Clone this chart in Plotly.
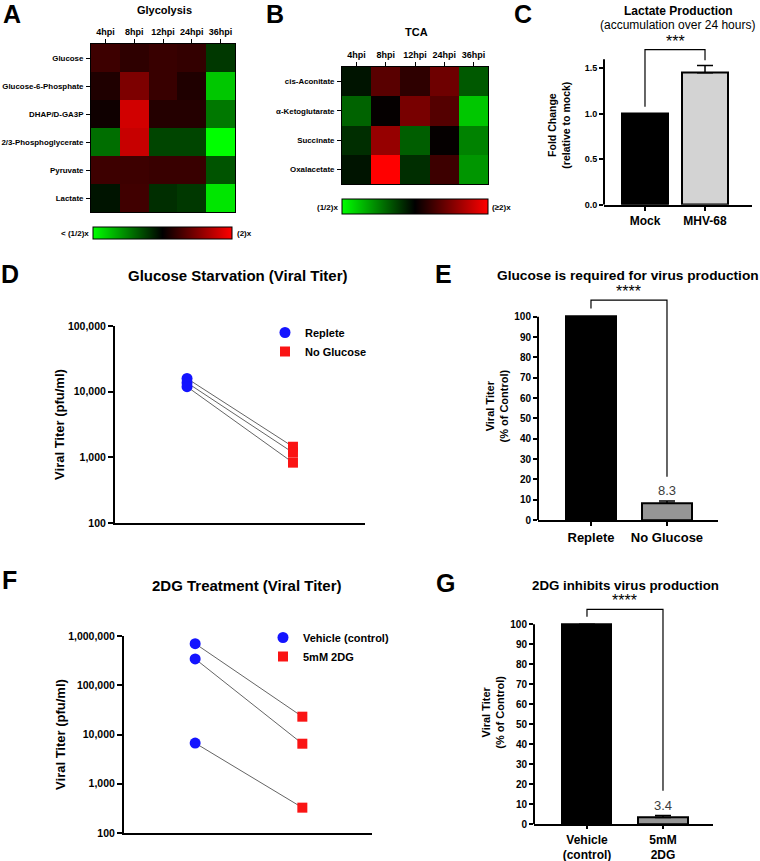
import plotly.graph_objects as go

W, H = 760, 861
FONT = "Arial, Liberation Sans, sans-serif"

# ---- data ----
timepoints = ["4hpi", "8hpi", "12hpi", "24hpi", "36hpi"]

glyco_metabolites = ["Glucose", "Glucose-6-Phosphate", "DHAP/D-GA3P",
                     "2/3-Phosphoglycerate", "Pyruvate", "Lactate"]
glyco_log2fc = [
    [0.24, 0.18, 0.22, 0.20, -0.22],
    [0.12, 0.49, 0.22, 0.12, -0.78],
    [0.06, 0.82, 0.14, 0.14, -0.47],
    [-0.43, 0.78, -0.27, -0.27, -1.00],
    [0.24, 0.24, 0.22, 0.22, -0.33],
    [-0.08, 0.25, -0.18, -0.22, -0.90],
]

tca_metabolites = ["cis-Aconitate", "α-Ketoglutarate", "Succinate", "Oxalacetate"]
tca_log2fc = [
    [-0.08, 0.35, 0.18, 0.43, -0.35],
    [-0.39, 0.02, 0.47, 0.33, -0.78],
    [-0.18, 0.59, -0.37, 0.02, -0.51],
    [-0.08, 1.00, -0.18, 0.24, -0.59],
]

lactate_groups = ["Mock", "MHV-68"]
lactate_fold = [1.0, 1.45]
lactate_err = [0.0, 0.08]

starv_groups = ["Replete", "No Glucose"]
replete_titer = [15900, 13700, 11900]
noglucose_titer = [1450, 1180, 830]

glucose_pct = [100, 8.3]
glucose_pct_err = [0, 1.0]

dg_groups = ["Vehicle (control)", "5mM 2DG"]
vehicle_titer = [700000, 343000, 6700]
dg_titer = [23000, 6500, 327]

dg_pct_labels = ["Vehicle<br>(control)", "5mM<br>2DG"]
dg_pct = [100, 3.4]
dg_pct_err = [0, 1.0]

GREEN_BLACK_RED = [[0, "rgb(0,255,0)"], [0.5, "rgb(0,0,0)"], [1, "rgb(255,0,0)"]]


def px_x(p):
    return p / W


def px_y(p):
    return 1 - p / H


def bold(size):
    return dict(family=FONT, size=size, color="black", weight="bold")


fig = go.Figure()

# ---- A: glycolysis heatmap ----
fig.add_trace(go.Heatmap(
    z=glyco_log2fc, x=timepoints, y=glyco_metabolites, xaxis="x", yaxis="y",
    colorscale=GREEN_BLACK_RED, zmin=-1, zmax=1,
    colorbar=dict(orientation="h", x=px_x(162.5), xanchor="center", y=px_y(227), yanchor="top",
                  len=139 / W, thickness=12, outlinewidth=1, outlinecolor="black",
                  showticklabels=False, ticks="", xpad=0, ypad=0),
))

# ---- B: TCA heatmap ----
fig.add_trace(go.Heatmap(
    z=tca_log2fc, x=timepoints, y=tca_metabolites, xaxis="x2", yaxis="y2",
    colorscale=GREEN_BLACK_RED, zmin=-1, zmax=1,
    colorbar=dict(orientation="h", x=px_x(415), xanchor="center", y=px_y(199), yanchor="top",
                  len=146 / W, thickness=15, outlinewidth=1, outlinecolor="black",
                  showticklabels=False, ticks="", xpad=0, ypad=0),
))

# ---- C: lactate bars ----
fig.add_trace(go.Bar(
    x=lactate_groups, y=lactate_fold, xaxis="x3", yaxis="y3", width=0.78,
    marker=dict(color=["black", "rgb(211,211,211)"], line=dict(color="black", width=2)),
    error_y=dict(type="data", symmetric=False, array=lactate_err, arrayminus=[0, 0],
                 color="black", thickness=1.5, width=8),
    showlegend=False,
))

# ---- D: glucose starvation titers ----
for a, b in zip(replete_titer, noglucose_titer):
    fig.add_trace(go.Scatter(x=[1, 2], y=[a, b], mode="lines", xaxis="x4", yaxis="y4",
                             line=dict(color="rgb(60,60,60)", width=0.8), showlegend=False,
                             hoverinfo="skip"))
fig.add_trace(go.Scatter(x=[1] * len(replete_titer), y=replete_titer, mode="markers",
                         xaxis="x4", yaxis="y4", name="Replete", legend="legend",
                         marker=dict(symbol="circle", size=11, color="rgb(20,20,255)")))
fig.add_trace(go.Scatter(x=[2] * len(noglucose_titer), y=noglucose_titer, mode="markers",
                         xaxis="x4", yaxis="y4", name="No Glucose", legend="legend",
                         marker=dict(symbol="square", size=10, color="rgb(250,20,20)")))

# ---- E: glucose required bars ----
fig.add_trace(go.Bar(
    x=starv_groups, y=glucose_pct, xaxis="x5", yaxis="y5", width=0.66,
    marker=dict(color=["black", "rgb(150,150,150)"], line=dict(color="black", width=2)),
    error_y=dict(type="data", symmetric=False, array=glucose_pct_err, arrayminus=[0, 0],
                 color="black", thickness=1.5, width=8),
    showlegend=False,
))

# ---- F: 2DG titers ----
for a, b in zip(vehicle_titer, dg_titer):
    fig.add_trace(go.Scatter(x=[1, 2], y=[a, b], mode="lines", xaxis="x6", yaxis="y6",
                             line=dict(color="rgb(60,60,60)", width=0.8), showlegend=False,
                             hoverinfo="skip"))
fig.add_trace(go.Scatter(x=[1] * len(vehicle_titer), y=vehicle_titer, mode="markers",
                         xaxis="x6", yaxis="y6", name=dg_groups[0], legend="legend2",
                         marker=dict(symbol="circle", size=11, color="rgb(20,20,255)")))
fig.add_trace(go.Scatter(x=[2] * len(dg_titer), y=dg_titer, mode="markers",
                         xaxis="x6", yaxis="y6", name=dg_groups[1], legend="legend2",
                         marker=dict(symbol="square", size=10, color="rgb(250,20,20)")))

# ---- G: 2DG inhibits bars ----
fig.add_trace(go.Bar(
    x=dg_pct_labels, y=dg_pct, xaxis="x7", yaxis="y7", width=0.645,
    marker=dict(color=["black", "rgb(150,150,150)"], line=dict(color="black", width=2)),
    error_y=dict(type="data", symmetric=False, array=dg_pct_err, arrayminus=[0, 0],
                 color="black", thickness=1.5, width=8),
    showlegend=False,
))

hm_x = dict(side="top", ticks="outside", ticklen=4, tickcolor="black", showline=True,
            mirror=True, linecolor="black", linewidth=1, tickfont=bold(9), showgrid=False,
            automargin=False)
hm_y = dict(autorange="reversed", ticks="outside", ticklen=4, tickcolor="black", showline=True,
            mirror=True, linecolor="black", linewidth=1, tickfont=bold(7.9), showgrid=False,
            ticklabelstandoff=1, automargin=False)
bar_x = dict(showline=True, linecolor="black", linewidth=2, ticks="outside", ticklen=4,
             tickwidth=1.5, tickcolor="black", showgrid=False, zeroline=False, type="category",
             automargin=False)
bar_y = dict(showline=False, ticks="outside", ticklen=4, tickwidth=1.5, tickcolor="black",
             showgrid=False, zeroline=False, automargin=False)
log_y = dict(type="log", showline=True, linecolor="black", linewidth=2, ticks="outside",
             ticklen=5, tickwidth=2, tickcolor="black", showgrid=False, tickformat=",d",
             tickfont=bold(10.5), zeroline=False, automargin=False)
dot_x = dict(showline=True, linecolor="black", linewidth=2, showticklabels=False, ticks="",
             showgrid=False, zeroline=False, automargin=False)

fig.update_layout(
    width=W, height=H, margin=dict(l=0, r=0, t=0, b=0),
    paper_bgcolor="white", plot_bgcolor="white", font=dict(family=FONT, color="black"),
    bargap=0,
    xaxis=dict(hm_x, domain=[px_x(91), px_x(235)], anchor="y"),
    yaxis=dict(hm_y, domain=[px_y(212), px_y(44)], anchor="x"),
    xaxis2=dict(hm_x, domain=[px_x(342), px_x(488)], anchor="y2"),
    yaxis2=dict(hm_y, domain=[px_y(184), px_y(67)], anchor="x2"),
    xaxis3=dict(bar_x, domain=[px_x(604), px_x(752)], anchor="y3", range=[-0.683, 1.783],
                tickfont=bold(12)),
    yaxis3=dict(bar_y, domain=[px_y(204.7), px_y(45.6)], anchor="x3", range=[0, 1.75],
                tickvals=[0, 0.5, 1.0, 1.5], tickformat=".1f", tickfont=bold(9),
                title=dict(text="Fold Change<br>(relative to mock)", font=bold(10.5), standoff=12)),
    xaxis4=dict(dot_x, domain=[px_x(115), px_x(365)], anchor="y4", range=[0.32, 2.68]),
    yaxis4=dict(log_y, domain=[px_y(523), px_y(326)], anchor="x4", range=[2, 5],
                tickvals=[100, 1000, 10000, 100000],
                title=dict(text="Viral Titer (pfu/ml)", font=bold(13), standoff=0)),
    xaxis5=dict(bar_x, domain=[px_x(538), px_x(718)], anchor="y5", range=[-0.697, 1.671],
                tickfont=bold(13)),
    yaxis5=dict(bar_y, domain=[px_y(520), px_y(292.3)], anchor="x5", range=[0, 112],
                tickvals=list(range(0, 101, 10)), tickfont=bold(10),
                title=dict(text="Viral Titer<br>(% of Control)", font=bold(11), standoff=3)),
    xaxis6=dict(dot_x, domain=[px_x(124), px_x(372)], anchor="y6", range=[0.336, 2.65]),
    yaxis6=dict(log_y, domain=[px_y(833), px_y(636)], anchor="x6", range=[2, 6],
                tickvals=[100, 1000, 10000, 100000, 1000000],
                title=dict(text="Viral Titer (pfu/ml)", font=bold(13), standoff=0)),
    xaxis7=dict(bar_x, domain=[px_x(534), px_x(713)], anchor="y7", range=[-0.697, 1.658],
                tickfont=bold(12), ticklen=3, ticklabelstandoff=0),
    yaxis7=dict(bar_y, domain=[px_y(824.3), px_y(600.3)], anchor="x7", range=[0, 112],
                tickvals=list(range(0, 101, 10)), tickfont=bold(10),
                title=dict(text="Viral Titer<br>(% of Control)", font=bold(11), standoff=3)),
    legend=dict(x=px_x(265), y=px_y(318), xanchor="left", yanchor="top", font=bold(11),
                bgcolor="rgba(0,0,0,0)", tracegroupgap=0, itemwidth=30),
    legend2=dict(x=px_x(263), y=px_y(623), xanchor="left", yanchor="top", font=bold(11),
                 bgcolor="rgba(0,0,0,0)", tracegroupgap=0, itemwidth=30),
)

# y-axis lines that stop at the top tick (brackets sit above them)
for yref, top in [("y3", 1.6), ("y5", 100), ("y7", 100)]:
    xref = "x" + yref[1:] + " domain"
    fig.add_shape(type="line", xref=xref, yref=yref, x0=0, x1=0, y0=0, y1=top,
                  line=dict(color="black", width=2))

# significance brackets
brackets = [
    ("x3", "y3", 1.078, 1.705, 1.59, "***"),
    ("x5", "y5", 104, 108.2, 21.3, "****"),
    ("x7", "y7", 103.8, 107.5, 16.8, "****"),
]
for xr, yr, y_left, y_top, y_right, stars in brackets:
    fig.add_shape(type="path", xref=xr, yref=yr,
                  path=f"M 0 {y_left} L 0 {y_top} L 1 {y_top} L 1 {y_right}",
                  line=dict(color="black", width=1.2))
    fig.add_annotation(x=0.5, y=y_top, xref=xr, yref=yr, text=stars, showarrow=False,
                       yanchor="bottom", yshift=-2, font=dict(family=FONT, size=16, color="black"))

# value labels over the small bars
fig.add_annotation(x=1, y=glucose_pct[1] + glucose_pct_err[1], xref="x5", yref="y5",
                   text=f"{glucose_pct[1]}", showarrow=False, yanchor="bottom", yshift=1,
                   font=dict(family=FONT, size=13, color="rgb(60,60,60)"))
fig.add_annotation(x=1, y=dg_pct[1] + dg_pct_err[1], xref="x7", yref="y7",
                   text=f"{dg_pct[1]}", showarrow=False, yanchor="bottom", yshift=1,
                   font=dict(family=FONT, size=13, color="rgb(60,60,60)"))

# titles
titles = [
    ("Glycolysis", 164, 10, bold(11)),
    ("TCA", 416, 32, bold(11)),
    ("Lactate Production", 678, 11, bold(12)),
    ("(accumulation over 24 hours)", 677, 25, dict(family=FONT, size=12, color="black")),
    ("Glucose Starvation (Viral Titer)", 238, 275, bold(15)),
    ("Glucose is required for virus production", 628, 275, bold(13.7)),
    ("2DG Treatment (Viral Titer)", 247, 585, bold(15)),
    ("2DG inhibits virus production", 625, 585, bold(13.3)),
]
for text, cx, cy, f in titles:
    fig.add_annotation(x=px_x(cx), y=px_y(cy), xref="paper", yref="paper", text=text,
                       showarrow=False, xanchor="center", yanchor="middle", font=f)

# panel letters
letters = [("A", 12, 14), ("B", 275, 14), ("C", 523, 14), ("D", 10, 274),
           ("E", 443, 274), ("F", 9, 580), ("G", 445, 583)]
for text, cx, cy in letters:
    fig.add_annotation(x=px_x(cx), y=px_y(cy), xref="paper", yref="paper", text=text,
                       showarrow=False, xanchor="center", yanchor="middle", font=bold(25))

# colorbar end labels
cb_labels = [
    ("< (1/2)x", 91, 233, "right"), ("(2)x", 235, 233, "left"),
    ("(1/2)x", 340, 207, "right"), ("(≥2)x", 490, 207, "left"),
]
for text, cx, cy, anchor in cb_labels:
    fig.add_annotation(x=px_x(cx), y=px_y(cy), xref="paper", yref="paper", text=text,
                       showarrow=False, xanchor=anchor, yanchor="middle", font=bold(8))

# drop the default 8px body margin so the figure sits at the page origin
fig.write_html("out.html", config={"displayModeBar": False},
               post_script="document.body.style.margin = '0';")
